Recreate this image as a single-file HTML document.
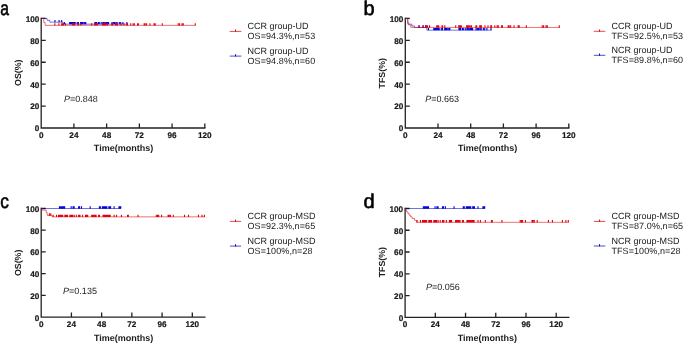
<!DOCTYPE html>
<html><head><meta charset="utf-8"><style>
html,body{margin:0;padding:0;background:#fff;width:685px;height:344px;overflow:hidden}
svg{display:block;will-change:transform}
text{font-family:"Liberation Sans",sans-serif;fill:#1a1a1a;text-rendering:geometricPrecision}
.tl{font-size:8.2px;font-weight:bold;stroke:#1a1a1a;stroke-width:0.2px}
.at{font-size:9px;font-weight:bold}
.yt{font-size:8.8px}
.lg{font-size:9px}
.lg2{letter-spacing:0.09px}
.pv{font-size:9px}
.pl{font-size:20px;fill:#000;stroke:#000;stroke-width:0.6px}
</style></head><body>
<svg width="685" height="344" viewBox="0 0 685 344">
<path d="M41.2 18.45V128H204.8" fill="none" stroke="#222" stroke-width="1.3" stroke-linecap="square"/>
<path d="M41.2 106.09H45.7M41.2 84.18H45.7M41.2 62.27H45.7M41.2 40.36H45.7M41.2 18.45H45.7M73.92 128V123.5M106.64 128V123.5M139.36 128V123.5M172.08 128V123.5M204.8 128V123.5" fill="none" stroke="#222" stroke-width="1.3"/>
<path d="M41.2 18.45H47.06V20.31H49.79V22.17H63.01V24.15H127.5" fill="none" stroke="#0000b8" stroke-width="0.55"/>
<path d="M41.2 18.45H43.79V22.61H45.15V25.35H195.67" fill="none" stroke="#d80000" stroke-width="0.55"/>
<path d="M54.97 19.97V22.37M59.06 19.97V22.37M61.65 19.97V22.37M64.38 21.95V24.35M69.69 21.95V24.35M70.51 21.95V24.35M71.33 21.95V24.35M72.28 21.95V24.35M73.1 21.95V24.35M74.06 21.95V24.35M75.15 21.95V24.35M77.19 21.95V24.35M78.42 21.95V24.35M80.6 21.95V24.35M81.42 21.95V24.35M82.24 21.95V24.35M83.19 21.95V24.35M84.69 21.95V24.35M85.78 21.95V24.35M94.92 21.95V24.35M95.87 21.95V24.35M96.69 21.95V24.35M98.46 21.95V24.35M99.28 21.95V24.35M101.19 21.95V24.35M102.82 21.95V24.35M103.91 21.95V24.35M105.14 21.95V24.35M106.37 21.95V24.35M107.46 21.95V24.35M108.55 21.95V24.35M111.96 21.95V24.35M113.32 21.95V24.35M114.55 21.95V24.35M115.91 21.95V24.35M117.14 21.95V24.35M119.32 21.95V24.35M120.68 21.95V24.35M122.86 21.95V24.35M126.95 21.95V24.35" fill="none" stroke="#0000e0" stroke-width="1.1"/>
<path d="M54.83 23.15V25.55M58.92 23.15V25.55M61.65 23.15V25.55M62.47 23.15V25.55M63.42 23.15V25.55M65.47 23.15V25.55M72.69 23.15V25.55M73.65 23.15V25.55M74.6 23.15V25.55M78.01 23.15V25.55M78.56 23.15V25.55M80.74 23.15V25.55M91.64 23.15V25.55M94.64 23.15V25.55M95.6 23.15V25.55M96.28 23.15V25.55M97.23 23.15V25.55M102.55 23.15V25.55M103.1 23.15V25.55M103.78 23.15V25.55M104.87 23.15V25.55M106.09 23.15V25.55M107.46 23.15V25.55M111.82 23.15V25.55M112.64 23.15V25.55M115.64 23.15V25.55M116.59 23.15V25.55M117.41 23.15V25.55M120.96 23.15V25.55M123.95 23.15V25.55M126.68 23.15V25.55M127.5 23.15V25.55M130.77 23.15V25.55M133.09 23.15V25.55M134.32 23.15V25.55M137.59 23.15V25.55M138.41 23.15V25.55M144.13 23.15V25.55M145.09 23.15V25.55M146.59 23.15V25.55M149.99 23.15V25.55M154.08 23.15V25.55M155.17 23.15V25.55M162.26 23.15V25.55M178.22 23.15V25.55M179.58 23.15V25.55M182.03 23.15V25.55M183.26 23.15V25.55M195.26 23.15V25.55" fill="none" stroke="#e00010" stroke-width="1.1"/>
<text x="39.3" y="131.4" class="tl" text-anchor="end">0</text>
<text x="39.3" y="109.49" class="tl" text-anchor="end">20</text>
<text x="39.3" y="87.58" class="tl" text-anchor="end">40</text>
<text x="39.3" y="65.67" class="tl" text-anchor="end">60</text>
<text x="39.3" y="43.76" class="tl" text-anchor="end">80</text>
<text x="39.3" y="21.85" class="tl" text-anchor="end">100</text>
<text x="41.2" y="137.6" class="tl" text-anchor="middle">0</text>
<text x="73.92" y="137.6" class="tl" text-anchor="middle">24</text>
<text x="106.64" y="137.6" class="tl" text-anchor="middle">48</text>
<text x="139.36" y="137.6" class="tl" text-anchor="middle">72</text>
<text x="172.08" y="137.6" class="tl" text-anchor="middle">96</text>
<text x="204.8" y="137.6" class="tl" text-anchor="middle">120</text>
<text x="123.5" y="150.8" class="at" text-anchor="middle">Time(months)</text>
<text x="21.2" y="72.72" class="at yt" text-anchor="middle" transform="rotate(-90 21.2 72.72)">OS(%)</text>
<text x="64" y="102.45" class="pv"><tspan font-style="italic">P</tspan>=0.848</text>
<text x="0" y="0" class="pl" transform="translate(0.2 15.1) scale(0.78 1)">a</text>
<path d="M229.7 31.4H241.4" fill="none" stroke="#d80000" stroke-width="0.7"/>
<path d="M235.55 31.7V29.6" fill="none" stroke="#d80000" stroke-width="1.0"/>
<text x="247.5" y="29.2" class="lg">CCR group-UD</text>
<text x="247.5" y="39.3" class="lg lg2">OS=94.3%,n=53</text>
<path d="M229.7 56.1H241.4" fill="none" stroke="#0000b8" stroke-width="0.7"/>
<path d="M235.55 56.4V54.3" fill="none" stroke="#0000b8" stroke-width="1.0"/>
<text x="247.5" y="53.9" class="lg">NCR group-UD</text>
<text x="247.5" y="64" class="lg lg2">OS=94.8%,n=60</text>
<path d="M405.3 18.45V128H568.8" fill="none" stroke="#222" stroke-width="1.3" stroke-linecap="square"/>
<path d="M405.3 106.09H409.8M405.3 84.18H409.8M405.3 62.27H409.8M405.3 40.36H409.8M405.3 18.45H409.8M438 128V123.5M470.7 128V123.5M503.4 128V123.5M536.1 128V123.5M568.8 128V123.5" fill="none" stroke="#222" stroke-width="1.3"/>
<path d="M405.3 18.45H407.75V24.15H411.84V26.01H414.56V27.54H426.83V30.17H491.55" fill="none" stroke="#0000b8" stroke-width="0.55"/>
<path d="M405.3 18.45H407.75V22.61H408.71V25.02H410.75V27.43H559.67" fill="none" stroke="#d80000" stroke-width="0.55"/>
<path d="M419.06 25.34V27.74M423.15 25.34V27.74M425.74 25.34V27.74M428.46 27.97V30.37M433.78 27.97V30.37M434.59 27.97V30.37M435.41 27.97V30.37M436.37 27.97V30.37M437.18 27.97V30.37M438.14 27.97V30.37M439.23 27.97V30.37M441.27 27.97V30.37M442.5 27.97V30.37M444.68 27.97V30.37M445.49 27.97V30.37M446.31 27.97V30.37M447.26 27.97V30.37M448.76 27.97V30.37M449.85 27.97V30.37M458.98 27.97V30.37M459.94 27.97V30.37M460.75 27.97V30.37M462.52 27.97V30.37M463.34 27.97V30.37M465.25 27.97V30.37M466.88 27.97V30.37M467.98 27.97V30.37M469.2 27.97V30.37M470.43 27.97V30.37M471.52 27.97V30.37M472.61 27.97V30.37M476.01 27.97V30.37M477.38 27.97V30.37M478.6 27.97V30.37M479.96 27.97V30.37M481.19 27.97V30.37M483.37 27.97V30.37M484.73 27.97V30.37M486.91 27.97V30.37M491 27.97V30.37" fill="none" stroke="#0000e0" stroke-width="1.1"/>
<path d="M418.93 25.23V27.63M423.01 25.23V27.63M425.74 25.23V27.63M426.56 25.23V27.63M427.51 25.23V27.63M429.55 25.23V27.63M436.77 25.23V27.63M437.73 25.23V27.63M438.68 25.23V27.63M442.09 25.23V27.63M442.63 25.23V27.63M444.81 25.23V27.63M455.71 25.23V27.63M458.71 25.23V27.63M459.66 25.23V27.63M460.34 25.23V27.63M461.3 25.23V27.63M466.61 25.23V27.63M467.16 25.23V27.63M467.84 25.23V27.63M468.93 25.23V27.63M470.15 25.23V27.63M471.52 25.23V27.63M475.88 25.23V27.63M476.69 25.23V27.63M479.69 25.23V27.63M480.65 25.23V27.63M481.46 25.23V27.63M485.01 25.23V27.63M488 25.23V27.63M490.73 25.23V27.63M491.55 25.23V27.63M494.82 25.23V27.63M497.13 25.23V27.63M498.36 25.23V27.63M501.63 25.23V27.63M502.45 25.23V27.63M508.17 25.23V27.63M509.12 25.23V27.63M510.62 25.23V27.63M514.03 25.23V27.63M518.12 25.23V27.63M519.2 25.23V27.63M526.29 25.23V27.63M542.23 25.23V27.63M543.59 25.23V27.63M546.05 25.23V27.63M547.27 25.23V27.63M559.26 25.23V27.63" fill="none" stroke="#e00010" stroke-width="1.1"/>
<text x="403.4" y="131.4" class="tl" text-anchor="end">0</text>
<text x="403.4" y="109.49" class="tl" text-anchor="end">20</text>
<text x="403.4" y="87.58" class="tl" text-anchor="end">40</text>
<text x="403.4" y="65.67" class="tl" text-anchor="end">60</text>
<text x="403.4" y="43.76" class="tl" text-anchor="end">80</text>
<text x="403.4" y="21.85" class="tl" text-anchor="end">100</text>
<text x="405.3" y="137.6" class="tl" text-anchor="middle">0</text>
<text x="438" y="137.6" class="tl" text-anchor="middle">24</text>
<text x="470.7" y="137.6" class="tl" text-anchor="middle">48</text>
<text x="503.4" y="137.6" class="tl" text-anchor="middle">72</text>
<text x="536.1" y="137.6" class="tl" text-anchor="middle">96</text>
<text x="568.8" y="137.6" class="tl" text-anchor="middle">120</text>
<text x="487.55" y="150.8" class="at" text-anchor="middle">Time(months)</text>
<text x="385.3" y="73.22" class="at yt" text-anchor="middle" transform="rotate(-90 385.3 73.22)">TFS(%)</text>
<text x="425.2" y="102.35" class="pv"><tspan font-style="italic">P</tspan>=0.663</text>
<text x="0" y="0" class="pl" transform="translate(363.5 15.1) scale(1.0 1)">b</text>
<path d="M593.8 31.3H605.3" fill="none" stroke="#d80000" stroke-width="0.7"/>
<path d="M599.55 31.6V29.5" fill="none" stroke="#d80000" stroke-width="1.0"/>
<text x="611.4" y="29.2" class="lg">CCR group-UD</text>
<text x="611.4" y="39" class="lg lg2">TFS=92.5%,n=53</text>
<path d="M593.8 55.3H605.3" fill="none" stroke="#0000b8" stroke-width="0.7"/>
<path d="M599.55 55.6V53.5" fill="none" stroke="#0000b8" stroke-width="1.0"/>
<text x="611.4" y="53.2" class="lg">NCR group-UD</text>
<text x="611.4" y="63" class="lg lg2">TFS=89.8%,n=60</text>
<path d="M41.2 208.5V317.1H204.9" fill="none" stroke="#222" stroke-width="1.3" stroke-linecap="square"/>
<path d="M41.2 295.38H45.7M41.2 273.66H45.7M41.2 251.94H45.7M41.2 230.22H45.7M41.2 208.5H45.7M71.42 317.1V312.6M101.64 317.1V312.6M131.86 317.1V312.6M162.09 317.1V312.6M192.31 317.1V312.6" fill="none" stroke="#222" stroke-width="1.3"/>
<path d="M41.2 208.5H120.91" fill="none" stroke="#0000b8" stroke-width="0.55"/>
<path d="M41.2 208.5H41.58V210.13H46.24V212.74H47.31V215.56H52.16V216.86H204.9" fill="none" stroke="#d80000" stroke-width="0.55"/>
<path d="M59.46 206.3V208.7M60.59 206.3V208.7M61.73 206.3V208.7M62.86 206.3V208.7M63.87 206.3V208.7M64.62 206.3V208.7M71.17 206.3V208.7M73.06 206.3V208.7M74.19 206.3V208.7M78.6 206.3V208.7M79.61 206.3V208.7M81.5 206.3V208.7M90.18 206.3V208.7M99.38 206.3V208.7M100.38 206.3V208.7M102.4 206.3V208.7M103.28 206.3V208.7M104.16 206.3V208.7M105.04 206.3V208.7M105.92 206.3V208.7M106.81 206.3V208.7M108.82 206.3V208.7M109.7 206.3V208.7M110.58 206.3V208.7M114.11 206.3V208.7M119.02 206.3V208.7M119.9 206.3V208.7M120.78 206.3V208.7" fill="none" stroke="#0000e0" stroke-width="1.1"/>
<path d="M53.16 214.66V217.06M56.56 214.66V217.06M58.58 214.66V217.06M59.46 214.66V217.06M60.59 214.66V217.06M61.6 214.66V217.06M62.73 214.66V217.06M64.87 214.66V217.06M65.88 214.66V217.06M66.64 214.66V217.06M67.52 214.66V217.06M69.91 214.66V217.06M70.92 214.66V217.06M71.8 214.66V217.06M72.68 214.66V217.06M74.19 214.66V217.06M76.33 214.66V217.06M78.6 214.66V217.06M79.35 214.66V217.06M79.98 214.66V217.06M82.5 214.66V217.06M85.52 214.66V217.06M86.53 214.66V217.06M87.67 214.66V217.06M91.7 214.66V217.06M92.7 214.66V217.06M93.84 214.66V217.06M94.97 214.66V217.06M96.1 214.66V217.06M98.62 214.66V217.06M99.5 214.66V217.06M103.03 214.66V217.06M104.16 214.66V217.06M105.17 214.66V217.06M106.3 214.66V217.06M107.31 214.66V217.06M108.44 214.66V217.06M109.32 214.66V217.06M110.21 214.66V217.06M114.11 214.66V217.06M116.5 214.66V217.06M121.41 214.66V217.06M127.58 214.66V217.06M128.34 214.66V217.06M138.03 214.66V217.06M156.29 214.66V217.06M157.55 214.66V217.06M158.69 214.66V217.06M161.58 214.66V217.06M168.13 214.66V217.06M169.14 214.66V217.06M170.4 214.66V217.06M173.29 214.66V217.06M184.5 214.66V217.06M188.53 214.66V217.06M198.48 214.66V217.06M202 214.66V217.06M204.4 214.66V217.06M49.39 213.36V215.76M50.77 213.36V215.76" fill="none" stroke="#e00010" stroke-width="1.1"/>
<text x="39.3" y="320.5" class="tl" text-anchor="end">0</text>
<text x="39.3" y="298.78" class="tl" text-anchor="end">20</text>
<text x="39.3" y="277.06" class="tl" text-anchor="end">40</text>
<text x="39.3" y="255.34" class="tl" text-anchor="end">60</text>
<text x="39.3" y="233.62" class="tl" text-anchor="end">80</text>
<text x="39.3" y="211.9" class="tl" text-anchor="end">100</text>
<text x="41.2" y="326.7" class="tl" text-anchor="middle">0</text>
<text x="71.42" y="326.7" class="tl" text-anchor="middle">24</text>
<text x="101.64" y="326.7" class="tl" text-anchor="middle">48</text>
<text x="131.86" y="326.7" class="tl" text-anchor="middle">72</text>
<text x="162.09" y="326.7" class="tl" text-anchor="middle">96</text>
<text x="192.31" y="326.7" class="tl" text-anchor="middle">120</text>
<text x="123.55" y="340.7" class="at" text-anchor="middle">Time(months)</text>
<text x="21.2" y="262.8" class="at yt" text-anchor="middle" transform="rotate(-90 21.2 262.8)">OS(%)</text>
<text x="63.1" y="294.45" class="pv"><tspan font-style="italic">P</tspan>=0.135</text>
<text x="0" y="0" class="pl" transform="translate(0.3 207.6) scale(0.86 1)">c</text>
<path d="M229.9 221.4H241.1" fill="none" stroke="#d80000" stroke-width="0.7"/>
<path d="M235.5 221.7V219.6" fill="none" stroke="#d80000" stroke-width="1.0"/>
<text x="247.5" y="219" class="lg">CCR group-MSD</text>
<text x="247.5" y="229" class="lg lg2">OS=92.3%,n=65</text>
<path d="M229.9 246.1H241.1" fill="none" stroke="#0000b8" stroke-width="0.7"/>
<path d="M235.5 246.4V244.3" fill="none" stroke="#0000b8" stroke-width="1.0"/>
<text x="247.5" y="243.7" class="lg">NCR group-MSD</text>
<text x="247.5" y="253.7" class="lg lg2">OS=100%,n=28</text>
<path d="M405.1 208.5V317.3H568.8" fill="none" stroke="#222" stroke-width="1.3" stroke-linecap="square"/>
<path d="M405.1 295.54H409.6M405.1 273.78H409.6M405.1 252.02H409.6M405.1 230.26H409.6M405.1 208.5H409.6M435.32 317.3V312.8M465.54 317.3V312.8M495.76 317.3V312.8M525.99 317.3V312.8M556.21 317.3V312.8" fill="none" stroke="#222" stroke-width="1.3"/>
<path d="M405.1 208.5H484.81" fill="none" stroke="#0000b8" stroke-width="0.55"/>
<path d="M405.1 208.5H405.6V210.13H406.61V211.87H407.87V213.5H409.13V215.25H410.64V216.88H412.15V218.51H414.54V220.25H416.43V222.32H568.8" fill="none" stroke="#d80000" stroke-width="0.55"/>
<path d="M423.36 206.3V208.7M424.49 206.3V208.7M425.63 206.3V208.7M426.76 206.3V208.7M427.77 206.3V208.7M428.52 206.3V208.7M435.07 206.3V208.7M436.96 206.3V208.7M438.09 206.3V208.7M442.5 206.3V208.7M443.51 206.3V208.7M445.4 206.3V208.7M454.08 206.3V208.7M463.28 206.3V208.7M464.28 206.3V208.7M466.3 206.3V208.7M467.18 206.3V208.7M468.06 206.3V208.7M468.94 206.3V208.7M469.82 206.3V208.7M470.71 206.3V208.7M472.72 206.3V208.7M473.6 206.3V208.7M474.48 206.3V208.7M478.01 206.3V208.7M482.92 206.3V208.7M483.8 206.3V208.7M484.68 206.3V208.7" fill="none" stroke="#0000e0" stroke-width="1.1"/>
<path d="M417.06 220.12V222.52M420.46 220.12V222.52M422.48 220.12V222.52M423.36 220.12V222.52M424.49 220.12V222.52M425.5 220.12V222.52M426.63 220.12V222.52M428.77 220.12V222.52M429.78 220.12V222.52M430.54 220.12V222.52M431.42 220.12V222.52M433.81 220.12V222.52M434.82 220.12V222.52M435.7 220.12V222.52M436.58 220.12V222.52M438.09 220.12V222.52M440.23 220.12V222.52M442.5 220.12V222.52M443.25 220.12V222.52M443.88 220.12V222.52M446.4 220.12V222.52M449.42 220.12V222.52M450.43 220.12V222.52M451.57 220.12V222.52M455.6 220.12V222.52M456.6 220.12V222.52M457.74 220.12V222.52M458.87 220.12V222.52M460 220.12V222.52M462.52 220.12V222.52M463.4 220.12V222.52M466.93 220.12V222.52M468.06 220.12V222.52M469.07 220.12V222.52M470.2 220.12V222.52M471.21 220.12V222.52M472.34 220.12V222.52M473.22 220.12V222.52M474.11 220.12V222.52M478.01 220.12V222.52M480.4 220.12V222.52M485.31 220.12V222.52M491.48 220.12V222.52M492.24 220.12V222.52M501.93 220.12V222.52M520.19 220.12V222.52M521.45 220.12V222.52M522.59 220.12V222.52M525.48 220.12V222.52M532.03 220.12V222.52M533.04 220.12V222.52M534.3 220.12V222.52M537.19 220.12V222.52M548.4 220.12V222.52M552.43 220.12V222.52M562.38 220.12V222.52M565.9 220.12V222.52M568.3 220.12V222.52" fill="none" stroke="#e00010" stroke-width="1.1"/>
<text x="403.2" y="320.7" class="tl" text-anchor="end">0</text>
<text x="403.2" y="298.94" class="tl" text-anchor="end">20</text>
<text x="403.2" y="277.18" class="tl" text-anchor="end">40</text>
<text x="403.2" y="255.42" class="tl" text-anchor="end">60</text>
<text x="403.2" y="233.66" class="tl" text-anchor="end">80</text>
<text x="403.2" y="211.9" class="tl" text-anchor="end">100</text>
<text x="405.1" y="326.9" class="tl" text-anchor="middle">0</text>
<text x="435.32" y="326.9" class="tl" text-anchor="middle">24</text>
<text x="465.54" y="326.9" class="tl" text-anchor="middle">48</text>
<text x="495.76" y="326.9" class="tl" text-anchor="middle">72</text>
<text x="525.99" y="326.9" class="tl" text-anchor="middle">96</text>
<text x="556.21" y="326.9" class="tl" text-anchor="middle">120</text>
<text x="487.45" y="340.8" class="at" text-anchor="middle">Time(months)</text>
<text x="385.1" y="262.1" class="at yt" text-anchor="middle" transform="rotate(-90 385.1 262.1)">TFS(%)</text>
<text x="426" y="290.45" class="pv"><tspan font-style="italic">P</tspan>=0.056</text>
<text x="0" y="0" class="pl" transform="translate(363.6 207.5) scale(1.0 1)">d</text>
<path d="M593.8 221.4H605.3" fill="none" stroke="#d80000" stroke-width="0.7"/>
<path d="M599.55 221.7V219.6" fill="none" stroke="#d80000" stroke-width="1.0"/>
<text x="611.4" y="219" class="lg">CCR group-MSD</text>
<text x="611.4" y="229" class="lg lg2">TFS=87.0%,n=65</text>
<path d="M593.8 246H605.3" fill="none" stroke="#0000b8" stroke-width="0.7"/>
<path d="M599.55 246.3V244.2" fill="none" stroke="#0000b8" stroke-width="1.0"/>
<text x="611.4" y="243.6" class="lg">NCR group-MSD</text>
<text x="611.4" y="253.6" class="lg lg2">TFS=100%,n=28</text>
</svg>
</body></html>
